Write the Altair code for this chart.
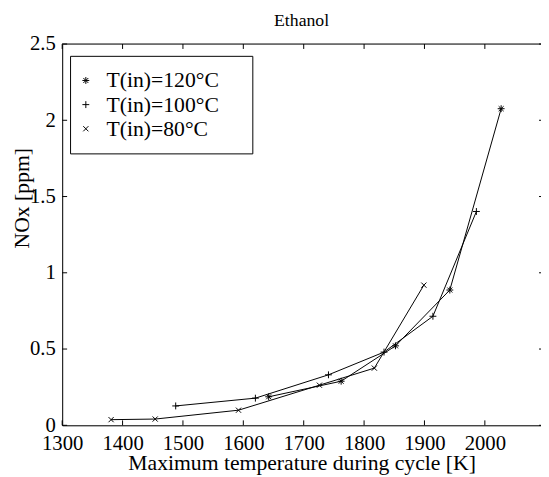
import altair as alt
import pandas as pd

# ---- data ----
t120_x = [1642, 1762, 1852, 1942, 2027]
t120_y = [0.187, 0.289, 0.521, 0.887, 2.076]
t100_x = [1488, 1620, 1741, 1833, 1914, 1986]
t100_y = [0.127, 0.178, 0.331, 0.480, 0.715, 1.402]
t80_x = [1381, 1454, 1592, 1726, 1817, 1899]
t80_y = [0.037, 0.041, 0.099, 0.263, 0.375, 0.919]

series_names = ["T(in)=120°C", "T(in)=100°C", "T(in)=80°C"]

x_ticks = [1300, 1400, 1500, 1600, 1700, 1800, 1900, 2000]
y_ticks = [0, 0.5, 1, 1.5, 2, 2.5]
x_domain = [1300, 2093]
y_domain = [0, 2.5]

rows = []
for name, xs, ys in zip(series_names, [t120_x, t100_x, t80_x], [t120_y, t100_y, t80_y]):
    for i, (a, b) in enumerate(zip(xs, ys)):
        rows.append({"series": name, "T": a, "NOx": b, "order": i})
df = pd.DataFrame(rows)

W, H = 486, 387
FONT = "Liberation Serif"
TL = 5  # tick length (inward)

star = "M-1,0L1,0M0,-1L0,1M-0.72,-0.72L0.72,0.72M-0.72,0.72L0.72,-0.72"
plus = "M-1,0L1,0M0,-1L0,1"
cross = "M-0.75,-0.75L0.75,0.75M-0.75,0.75L0.75,-0.75"

xscale = alt.Scale(domain=x_domain, nice=False, zero=False)
yscale = alt.Scale(domain=y_domain, nice=False, zero=True)

xaxis = alt.Axis(values=x_ticks, title="Maximum temperature during cycle [K]", format="d",
                 ticks=False, tickSize=0, grid=False, labelFont=FONT, titleFont=FONT,
                 labelFontSize=21, titleFontSize=22, labelPadding=8, titlePadding=-1,
                 titleFontWeight="normal", labelColor="black", titleColor="black",
                 domainColor="black", labelFlush=False, labelOverlap=False)
yaxis = alt.Axis(values=y_ticks, title="NOx [ppm]", format="~g", ticks=False, tickSize=0,
                 grid=False, labelFont=FONT, titleFont=FONT, labelFontSize=21, titleFontSize=22,
                 labelPadding=7, titleFontWeight="normal", labelColor="black",
                 titleColor="black", domainColor="black", labelFlush=False,
                 labelOverlap=False, titleX=-41, titleY=156, titleBaseline="middle")

base = alt.Chart(df)

lines = base.mark_line(color="black", strokeWidth=1).encode(
    x=alt.X("T:Q", scale=xscale, axis=xaxis),
    y=alt.Y("NOx:Q", scale=yscale, axis=yaxis),
    detail="series:N",
    order="order:Q",
)

points = base.mark_point(filled=False, color="black", strokeWidth=1, size=49, opacity=1).encode(
    x=alt.X("T:Q", scale=xscale),
    y=alt.Y("NOx:Q", scale=yscale),
    shape=alt.Shape("series:N",
                    scale=alt.Scale(domain=series_names, range=[star, plus, cross]),
                    legend=alt.Legend(title="i", titleOrient="right", titleOpacity=0,
                                      titleFontSize=4, titlePadding=18,
                                      orient="none", legendX=8, legendY=12,
                                      labelFont=FONT, labelFontSize=22, labelColor="black",
                                      padding=14, rowPadding=2.5, labelOffset=10,
                                      symbolOffset=-9,
                                      symbolSize=49, symbolStrokeColor="black",
                                      symbolStrokeWidth=1, symbolFillColor="transparent",
                                      fillColor="white", strokeColor="black")),
)

xt = pd.DataFrame({"v": x_ticks})
yt = pd.DataFrame({"v": y_ticks})

bottom_ticks = alt.Chart(xt).mark_rule(color="black", strokeWidth=1).encode(
    x=alt.X("v:Q", scale=xscale), y=alt.value(H), y2=alt.value(H - TL))
top_ticks = alt.Chart(xt).mark_rule(color="black", strokeWidth=1).encode(
    x=alt.X("v:Q", scale=xscale), y=alt.value(0), y2=alt.value(TL))
left_ticks = alt.Chart(yt).mark_rule(color="black", strokeWidth=1).encode(
    y=alt.Y("v:Q", scale=yscale), x=alt.value(0), x2=alt.value(TL))
right_ticks = alt.Chart(yt).mark_rule(color="black", strokeWidth=1).encode(
    y=alt.Y("v:Q", scale=yscale), x=alt.value(W - 2), x2=alt.value(W))
top_line = alt.Chart(pd.DataFrame({"v": [0]})).mark_rule(color="black", strokeWidth=1).encode(
    x=alt.value(0), x2=alt.value(W), y=alt.value(0))

chart = alt.layer(lines, points, bottom_ticks, top_ticks, left_ticks, right_ticks, top_line).properties(
    width=W, height=H,
    title=alt.TitleParams("Ethanol", font=FONT, fontSize=18, fontWeight="normal",
                          color="black", offset=3, anchor="middle"),
    autosize=alt.AutoSizeParams(type="none"),
    padding={"left": 55, "top": 33, "right": 0, "bottom": 55},
).configure_view(stroke=None).configure(background="white")

chart.save("out.html", embed_options={"renderer": "svg", "actions": False})
